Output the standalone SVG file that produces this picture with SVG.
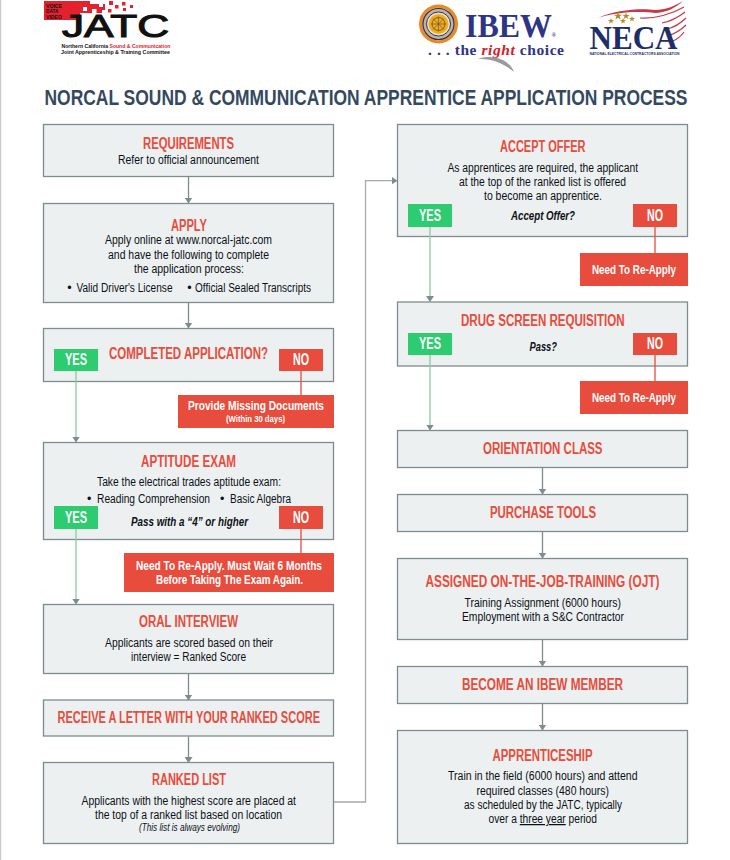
<svg xmlns="http://www.w3.org/2000/svg" width="730" height="860" viewBox="0 0 730 860">
<style>
text{font-family:"Liberation Sans Narrow","Liberation Sans",Arial,sans-serif}
.box{fill:#ecf0f1;stroke:#7f8c8d;stroke-width:1.3}
.h{font-size:16px;font-weight:700;fill:#e74c3c}
.b{font-size:12.5px;fill:#0c1116}
.q{font-size:12px;font-weight:700;font-style:italic;fill:#0c1116}
.s{font-size:10px;font-style:italic;fill:#0c1116}
.yes{fill:#2ecc71}
.no,.red{fill:#e74c3c}
.t{font-size:16px;font-weight:700;fill:#fff}
.w{font-size:12.5px;font-weight:700;fill:#fff}
.c{fill:none;stroke:#7f8c8d;stroke-width:1.3}
.g{fill:none;stroke:#8ccba6;stroke-width:1.3}
.r{fill:none;stroke:#e74c3c;stroke-width:1.3}
.l{fill:none;stroke:#a5abab;stroke-width:1.3}
.sf{font-family:"Liberation Serif",serif}
.ls{font-family:"Liberation Sans",Arial,sans-serif}
</style>
<defs>
<marker id="a" markerUnits="userSpaceOnUse" markerWidth="9" markerHeight="8" refX="5.5" refY="4" orient="auto"><path d="M0 0V8L6 4Z" fill="#7f8c8d"/></marker>
<marker id="a2" markerUnits="userSpaceOnUse" markerWidth="6" markerHeight="9" refX="5.5" refY="4.5" orient="auto"><path d="M0 0.5V8.5L6 4.5Z" fill="#7f8c8d"/></marker>
<path id="star" d="M0-3 .8-.9 3-.9 1.2.4 1.9 2.5 0 1.2-1.9 2.5-1.2.4-3-.9-.8-.9Z" fill="#b08d2a"/>
</defs>
<rect x="0" y="0" width="730" height="860" fill="#fff"/>
<rect x="0" y="0" width="1.2" height="860" fill="#c8c8c8"/>

<g id="logo-jatc">
<path d="M44 1H90V4H105V13H80V20H44Z" fill="#e3222d"/>
<g fill="#e3222d"><rect x="109" y="1" width="4" height="4"/><rect x="115" y="5" width="3.5" height="3.5"/><rect x="122" y="2" width="3.5" height="3.5"/><rect x="130" y="5" width="3" height="3"/><rect x="123" y="8" width="3" height="3"/><rect x="108" y="9" width="3.5" height="3.5"/></g>
<g fill="#fff"><rect x="83" y="7" width="4" height="4"/><rect x="92" y="9" width="4.5" height="4.5"/><rect x="90" y="0" width="4" height="4"/><rect x="99" y="3" width="4" height="4"/><rect x="102" y="10" width="3" height="3"/></g>
<text class="ls" x="46" y="7.5" font-size="5" font-weight="700" fill="#111" textLength="16" lengthAdjust="spacingAndGlyphs">VOICE</text>
<text class="ls" x="46" y="13" font-size="5" font-weight="700" fill="#111" textLength="12.5" lengthAdjust="spacingAndGlyphs">DATA</text>
<text class="ls" x="46" y="18.5" font-size="5" font-weight="700" fill="#111" textLength="16" lengthAdjust="spacingAndGlyphs">VIDEO</text>
<text class="ls" x="62" y="37" font-size="32" fill="#111" stroke="#111" stroke-width="1.1" textLength="107" lengthAdjust="spacingAndGlyphs">JATC</text>
<text class="ls" x="61.5" y="47.5" font-size="5.2" font-weight="700" fill="#111" textLength="109" lengthAdjust="spacingAndGlyphs">Northern California <tspan fill="#e3222d">Sound &amp; Communication</tspan></text>
<text class="ls" x="61" y="54" font-size="5.2" font-weight="700" fill="#111" textLength="109" lengthAdjust="spacingAndGlyphs">Joint Apprenticeship &amp; Training Committee</text>
</g>

<g id="logo-ibew">
<circle cx="438.5" cy="24" r="19.5" fill="#ea8a20"/>
<circle cx="438.5" cy="24" r="16.5" fill="#c9b48a"/>
<circle cx="438.5" cy="24" r="15.5" fill="none" stroke="#2b3172" stroke-width="1.2"/>
<circle cx="438.5" cy="24" r="12" fill="#e9e4d2" stroke="#2b3172" stroke-width="1"/>
<circle cx="438.5" cy="24" r="10" fill="#f2ab1c"/>
<circle cx="438.5" cy="24" r="6.5" fill="none" stroke="#6b5a30" stroke-width=".9"/>
<path d="M431 24H446M438.5 16.5V31.5M433 18.5L444 29.5M444 18.5L433 29.5" stroke="#6b5a30" stroke-width=".7"/>
<text class="sf" x="465" y="37" font-size="33" font-weight="700" fill="#2e3586" textLength="87" lengthAdjust="spacingAndGlyphs">IBEW</text>
<text class="sf" x="551.5" y="37" font-size="6" font-weight="700" fill="#2e3586">®</text>
<text class="sf" x="428" y="55" font-size="15.5" font-weight="700" fill="#2e3586" textLength="136" lengthAdjust="spacing">. . . the <tspan fill="#d3202a" font-style="italic">right</tspan> choice</text>
<path d="M478 59C492 54 509 59 514 72C505 64 492 58 478 59Z" fill="#9a9a9a"/>
</g>

<g id="logo-neca">
<path d="M598 18C615 10 640 8 655 10 665 10 675 6 683 1 676 8 665 13 655 13 640 11 615 12 598 18Z" fill="#c8384a"/>
<path d="M640 18C655 19 672 14 684 7M662 23C672 21 680 16 685 12M667 29C675 27 681 23 686 18M668 36C676 33 682 29 686 25M673 41C678 39 681 36 684 32" fill="none" stroke="#c8384a" stroke-width="1.2"/>
<use href="#star" x="611" y="21"/><use href="#star" transform="translate(618 16) scale(1.4)"/><use href="#star" transform="translate(626 16) scale(1.2)"/><use href="#star" x="623" y="21"/><use href="#star" x="632" y="19"/>
<text class="sf" x="589.5" y="48.5" font-size="33" font-weight="700" fill="#1d2e6a" textLength="88" lengthAdjust="spacingAndGlyphs">NECA</text>
<text class="ls" x="589.5" y="54.5" font-size="3.8" font-weight="700" fill="#1d2e6a" textLength="90" lengthAdjust="spacingAndGlyphs">NATIONAL ELECTRICAL CONTRACTORS ASSOCIATION</text>
</g>

<text id="title" x="44.5" y="105" font-size="22" font-weight="700" fill="#34495e" textLength="643" lengthAdjust="spacingAndGlyphs">NORCAL SOUND &amp; COMMUNICATION APPRENTICE APPLICATION PROCESS</text>

<g id="requirements"><rect class="box" x="43.5" y="124.5" width="290" height="52"/>
<text class="h" x="143" y="148.5" textLength="91" lengthAdjust="spacingAndGlyphs">REQUIREMENTS</text>
<text class="b" x="118" y="164" textLength="141" lengthAdjust="spacingAndGlyphs">Refer to official announcement</text></g>

<g id="apply"><rect class="box" x="43.5" y="203.5" width="290" height="99"/>
<text class="h" x="171" y="231" textLength="36" lengthAdjust="spacingAndGlyphs">APPLY</text>
<text class="b" x="105" y="244" textLength="167" lengthAdjust="spacingAndGlyphs">Apply online at www.norcal-jatc.com</text>
<text class="b" x="108" y="258.5" textLength="161" lengthAdjust="spacingAndGlyphs">and have the following to complete</text>
<text class="b" x="134" y="272.5" textLength="110" lengthAdjust="spacingAndGlyphs">the application process:</text>
<text class="b" x="67.3" y="291.5">•</text>
<text class="b" x="76.5" y="291.5" textLength="96" lengthAdjust="spacingAndGlyphs">Valid Driver's License</text>
<text class="b" x="187.3" y="291.5">•</text>
<text class="b" x="195" y="291.5" textLength="116" lengthAdjust="spacingAndGlyphs">Official Sealed Transcripts</text></g>

<g id="completed-application"><rect class="box" x="43.5" y="328.5" width="290" height="53"/>
<text class="h" x="109" y="359" textLength="159" lengthAdjust="spacingAndGlyphs">COMPLETED APPLICATION?</text>
<rect class="yes" x="54" y="349" width="44" height="22"/><text class="t" x="65" y="365" textLength="22" lengthAdjust="spacingAndGlyphs">YES</text>
<rect class="no" x="279" y="349" width="44" height="22"/><text class="t" x="293" y="365" textLength="16" lengthAdjust="spacingAndGlyphs">NO</text></g>

<g id="missing-documents"><rect class="red" x="178" y="395" width="156" height="33"/>
<text class="w" x="188" y="410" textLength="136" lengthAdjust="spacingAndGlyphs">Provide Missing Documents</text>
<text x="226" y="422" font-size="9.5" font-weight="700" fill="#fff" textLength="59" lengthAdjust="spacingAndGlyphs">(Within 30 days)</text></g>

<g id="aptitude-exam"><rect class="box" x="43.5" y="442.5" width="290" height="97"/>
<text class="h" x="141" y="466.5" textLength="95" lengthAdjust="spacingAndGlyphs">APTITUDE EXAM</text>
<text class="b" x="97" y="486" textLength="184" lengthAdjust="spacingAndGlyphs">Take the electrical trades aptitude exam:</text>
<text class="b" x="87" y="503">•</text>
<text class="b" x="97" y="503" textLength="113" lengthAdjust="spacingAndGlyphs">Reading Comprehension</text>
<text class="b" x="220" y="503">•</text>
<text class="b" x="230" y="503" textLength="61" lengthAdjust="spacingAndGlyphs">Basic Algebra</text>
<text class="q" x="131" y="525.5" textLength="117" lengthAdjust="spacingAndGlyphs">Pass with a “4” or higher</text>
<rect class="yes" x="54" y="506" width="44" height="23"/><text class="t" x="65" y="523" textLength="22" lengthAdjust="spacingAndGlyphs">YES</text>
<rect class="no" x="279" y="506" width="44" height="23"/><text class="t" x="293" y="523" textLength="16" lengthAdjust="spacingAndGlyphs">NO</text></g>

<g id="re-apply-exam"><rect class="red" x="124" y="553" width="210" height="39"/>
<text class="w" x="136" y="570" textLength="186" lengthAdjust="spacingAndGlyphs">Need To Re-Apply. Must Wait 6 Months</text>
<text class="w" x="156" y="584" textLength="147" lengthAdjust="spacingAndGlyphs">Before Taking The Exam Again.</text></g>

<g id="oral-interview"><rect class="box" x="43.5" y="604.5" width="290" height="69"/>
<text class="h" x="139" y="626.5" textLength="99" lengthAdjust="spacingAndGlyphs">ORAL INTERVIEW</text>
<text class="b" x="105" y="647" textLength="168" lengthAdjust="spacingAndGlyphs">Applicants are scored based on their</text>
<text class="b" x="131" y="661" textLength="115" lengthAdjust="spacingAndGlyphs">interview = Ranked Score</text></g>

<g id="receive-letter"><rect class="box" x="43.5" y="700" width="290" height="36"/>
<text class="h" x="57.5" y="723" textLength="262.5" lengthAdjust="spacingAndGlyphs">RECEIVE A LETTER WITH YOUR RANKED SCORE</text></g>

<g id="ranked-list"><rect class="box" x="43.5" y="762.5" width="290" height="81"/>
<text class="h" x="152" y="785" textLength="74" lengthAdjust="spacingAndGlyphs">RANKED LIST</text>
<text class="b" x="81.5" y="805" textLength="214.5" lengthAdjust="spacingAndGlyphs">Applicants with the highest score are placed at</text>
<text class="b" x="95" y="819" textLength="187" lengthAdjust="spacingAndGlyphs">the top of a ranked list based on location</text>
<text class="s" x="139" y="831" textLength="101" lengthAdjust="spacingAndGlyphs">(This list is always evolving)</text></g>

<g id="accept-offer"><rect class="box" x="397.5" y="124.5" width="290" height="112"/>
<text class="h" x="500" y="151.5" textLength="85.5" lengthAdjust="spacingAndGlyphs">ACCEPT OFFER</text>
<text class="b" x="447.5" y="171.5" textLength="190.5" lengthAdjust="spacingAndGlyphs">As apprentices are required, the applicant</text>
<text class="b" x="459" y="185.5" textLength="167" lengthAdjust="spacingAndGlyphs">at the top of the ranked list is offered</text>
<text class="b" x="484" y="199.5" textLength="118" lengthAdjust="spacingAndGlyphs">to become an apprentice.</text>
<text class="q" x="511" y="219.5" textLength="64" lengthAdjust="spacingAndGlyphs">Accept Offer?</text>
<rect class="yes" x="408" y="204" width="44" height="23"/><text class="t" x="419" y="221" textLength="22" lengthAdjust="spacingAndGlyphs">YES</text>
<rect class="no" x="633" y="204" width="44" height="23"/><text class="t" x="647" y="221" textLength="16" lengthAdjust="spacingAndGlyphs">NO</text></g>

<g id="re-apply-offer"><rect class="red" x="580" y="253" width="108" height="33"/>
<text class="w" x="592" y="274" textLength="84" lengthAdjust="spacingAndGlyphs">Need To Re-Apply</text></g>

<g id="drug-screen"><rect class="box" x="397.5" y="302" width="290" height="64"/>
<text class="h" x="461" y="325.5" textLength="163.5" lengthAdjust="spacingAndGlyphs">DRUG SCREEN REQUISITION</text>
<text class="q" x="529.5" y="350.5" textLength="27.5" lengthAdjust="spacingAndGlyphs">Pass?</text>
<rect class="yes" x="408" y="333" width="44" height="22"/><text class="t" x="419" y="349" textLength="22" lengthAdjust="spacingAndGlyphs">YES</text>
<rect class="no" x="633" y="333" width="44" height="22"/><text class="t" x="647" y="349" textLength="16" lengthAdjust="spacingAndGlyphs">NO</text></g>

<g id="re-apply-drug"><rect class="red" x="580" y="381" width="108" height="33"/>
<text class="w" x="592" y="402" textLength="84" lengthAdjust="spacingAndGlyphs">Need To Re-Apply</text></g>

<g id="orientation-class"><rect class="box" x="397.5" y="430.5" width="290" height="37"/>
<text class="h" x="483" y="454" textLength="119.5" lengthAdjust="spacingAndGlyphs">ORIENTATION CLASS</text></g>

<g id="purchase-tools"><rect class="box" x="397.5" y="494.5" width="290" height="37"/>
<text class="h" x="490" y="518" textLength="106" lengthAdjust="spacingAndGlyphs">PURCHASE TOOLS</text></g>

<g id="ojt"><rect class="box" x="397.5" y="558.5" width="290" height="81"/>
<text class="h" x="425.5" y="587" textLength="234" lengthAdjust="spacingAndGlyphs">ASSIGNED ON-THE-JOB-TRAINING (OJT)</text>
<text class="b" x="464.5" y="607" textLength="156.5" lengthAdjust="spacingAndGlyphs">Training Assignment (6000 hours)</text>
<text class="b" x="462" y="621" textLength="162" lengthAdjust="spacingAndGlyphs">Employment with a S&amp;C Contractor</text></g>

<g id="ibew-member"><rect class="box" x="397.5" y="666.5" width="290" height="37"/>
<text class="h" x="462" y="690" textLength="161" lengthAdjust="spacingAndGlyphs">BECOME AN IBEW MEMBER</text></g>

<g id="apprenticeship"><rect class="box" x="397.5" y="730.5" width="290" height="113"/>
<text class="h" x="492.5" y="761" textLength="100" lengthAdjust="spacingAndGlyphs">APPRENTICESHIP</text>
<text class="b" x="448" y="780" textLength="189.5" lengthAdjust="spacingAndGlyphs">Train in the field (6000 hours) and attend</text>
<text class="b" x="476.5" y="795" textLength="132.5" lengthAdjust="spacingAndGlyphs">required classes (480 hours)</text>
<text class="b" x="464" y="809" textLength="158" lengthAdjust="spacingAndGlyphs">as scheduled by the JATC, typically</text>
<text class="b" x="488.5" y="823" textLength="108.5" lengthAdjust="spacingAndGlyphs">over a <tspan text-decoration="underline">three year</tspan> period</text></g>

<g id="connectors">
<path class="c" d="M188.5 176.5V203" marker-end="url(#a)"/>
<path class="c" d="M188.5 303V328" marker-end="url(#a)"/>
<path class="g" d="M76 371V442" marker-end="url(#a)"/>
<path class="r" d="M301 371V395"/>
<path class="g" d="M76 529V604" marker-end="url(#a)"/>
<path class="r" d="M301 529V553"/>
<path class="c" d="M188.5 674V700" marker-end="url(#a)"/>
<path class="c" d="M188.5 736.500V762.500" marker-end="url(#a)"/>
<path class="l" d="M334 802H365.500V180.700H397" marker-end="url(#a2)"/>
<path class="g" d="M430 227V301.500" marker-end="url(#a)"/>
<path class="r" d="M655 227V253"/>
<path class="g" d="M430 355V430" marker-end="url(#a)"/>
<path class="r" d="M655 355V381"/>
<path class="c" d="M542.500 467.500V494" marker-end="url(#a)"/>
<path class="c" d="M542.500 531.500V558" marker-end="url(#a)"/>
<path class="c" d="M542.500 640V666" marker-end="url(#a)"/>
<path class="c" d="M542.500 703.500V730" marker-end="url(#a)"/>
</g>
</svg>
